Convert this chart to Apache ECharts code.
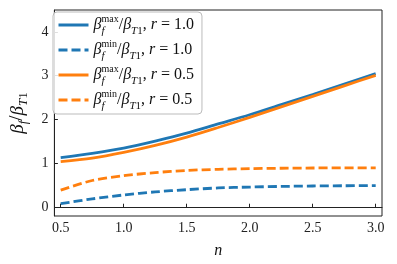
<!DOCTYPE html>
<html><head><meta charset="utf-8">
<script src="https://cdn.jsdelivr.net/npm/echarts@6/dist/echarts.min.js"></script>
<style>html,body{margin:0;padding:0;background:#fff}#c{width:397px;height:264px}</style>
</head><body><div id="c"></div>
<script>
const nValues = [0.5, 0.75, 1.0, 1.25, 1.5, 1.75, 2.0, 2.25, 2.5, 2.75, 3.0];
const maxR10 = [1.13, 1.23, 1.35, 1.51, 1.69, 1.90, 2.11, 2.34, 2.57, 2.81, 3.05];
const minR10 = [0.08, 0.19, 0.28, 0.35, 0.40, 0.44, 0.46, 0.475, 0.485, 0.49, 0.495];
const maxR05 = [1.04, 1.12, 1.25, 1.41, 1.60, 1.82, 2.05, 2.29, 2.53, 2.77, 3.01];
const minR05 = [0.39, 0.61, 0.72, 0.79, 0.84, 0.865, 0.88, 0.89, 0.895, 0.90, 0.90];
const xTicks = [0.5, 1.0, 1.5, 2.0, 2.5, 3.0];
const yTicks = [0, 1, 2, 3, 4];
const seriesNames = ['max10', 'min10', 'max05', 'min05'];
const legendLabels = {
  max10: '{b|β}{sub0|f}{sup|max}{n|/}{b|β}{sub|T}{subn|1}{n|, }{i|r}{n| = 1.0}',
  min10: '{b|β}{sub0|f}{sup|min}{n|/}{b|β}{sub|T}{subn|1}{n|, }{i|r}{n| = 1.0}',
  max05: '{b|β}{sub0|f}{sup|max}{n|/}{b|β}{sub|T}{subn|1}{n|, }{i|r}{n| = 0.5}',
  min05: '{b|β}{sub0|f}{sup|min}{n|/}{b|β}{sub|T}{subn|1}{n|, }{i|r}{n| = 0.5}'
};
const F = 'Liberation Serif, DejaVu Serif, serif';
const BLUE = '#1f77b4', ORANGE = '#ff7f0e';
function pairs(ys){ return nValues.map((x,i)=>[x, ys[i]]); }
const LH = 24;
const rich = {
  b: {fontFamily:F, fontStyle:'italic', fontSize:16, lineHeight:LH, color:'#111'},
  i: {fontFamily:F, fontStyle:'italic', fontSize:16, lineHeight:LH, color:'#111'},
  n: {fontFamily:F, fontSize:16, lineHeight:LH, color:'#111'},
  sup: {fontFamily:F, fontSize:10, verticalAlign:'top', lineHeight:LH, padding:[1,0,0,0], color:'#111'},
  sub0: {fontFamily:F, fontStyle:'italic', fontSize:11, verticalAlign:'bottom', lineHeight:LH, width:0, color:'#111'},
  sub: {fontFamily:F, fontStyle:'italic', fontSize:11, verticalAlign:'bottom', lineHeight:LH, color:'#111'},
  subn: {fontFamily:F, fontSize:11, verticalAlign:'bottom', lineHeight:LH, color:'#111'}
};
const chart = echarts.init(document.getElementById('c'), null, {renderer:'canvas'});
function mk(name, ys, color, dashed){
  return {name, type:'line', data:pairs(ys), smooth:0.3, symbol:'none',
    lineStyle:{color, width:2.8, type: dashed ? [9,4] : 'solid'}, itemStyle:{color}, z: dashed?2:3};
}
chart.setOption({
  animation:false,
  backgroundColor:'#fff',
  grid:{left:43, right:15, top:10, bottom:47, show:true, borderColor:'#222', borderWidth:1, backgroundColor:'transparent'},
  legend:{
    left:53, top:12, orient:'vertical', itemWidth:30, itemHeight:10, itemGap:1,
    padding:[1,8,2,4],
    borderColor:'#bbbbbb', borderWidth:1, borderRadius:4, backgroundColor:'rgba(255,255,255,0.85)',
    data: seriesNames,
    itemStyle:{opacity:0},
    lineStyle:{width:3},
    formatter: name => legendLabels[name],
    textStyle:{fontFamily:F, fontSize:16, rich: rich}
  },
  xAxis:{
    type:'value', min:0.45, max:3.05,
    name:'{i|n}', nameLocation:'middle', nameGap:27,
    nameTextStyle:{fontFamily:F, fontSize:15, rich:{i:{fontFamily:F, fontStyle:'italic', fontSize:16, color:'#111'}}},
    axisLine:{show:true, lineStyle:{color:'#222', width:1}},
    axisTick:{show:true, inside:true, length:3.5, lineStyle:{color:'#222'}, customValues:xTicks},
    axisLabel:{show:true, customValues:xTicks, fontFamily:F, fontSize:14, color:'#222', margin:5,
      formatter: v => v.toFixed(1)},
    splitLine:{show:false}
  },
  yAxis:{
    type:'value', min:-0.2, max:4.5,
    name:'{b|β}{sub|f}{n|/}{b|β}{sub|T}{subn|1}', nameLocation:'middle', nameGap:21, nameRotate:90,
    nameTextStyle:{fontFamily:F, fontSize:19, rich:{
      b:{fontFamily:F, fontStyle:'italic', fontSize:19, lineHeight:26, color:'#111'},
      n:{fontFamily:F, fontSize:19, lineHeight:26, color:'#111'},
      sub:{fontFamily:F, fontStyle:'italic', fontSize:13, verticalAlign:'bottom', lineHeight:26, color:'#111'},
      subn:{fontFamily:F, fontSize:13, verticalAlign:'bottom', lineHeight:26, color:'#111'}
    }},
    axisLine:{show:true, lineStyle:{color:'#222', width:1}},
    axisTick:{show:true, inside:true, length:3.5, lineStyle:{color:'#222'}, customValues:yTicks},
    axisLabel:{show:true, customValues:yTicks, fontFamily:F, fontSize:14, color:'#222', margin:6},
    splitLine:{show:false}
  },
  series:[
    mk('max10', maxR10, BLUE, false),
    mk('min10', minR10, BLUE, true),
    mk('max05', maxR05, ORANGE, false),
    mk('min05', minR05, ORANGE, true)
  ]
});
</script></body></html>
